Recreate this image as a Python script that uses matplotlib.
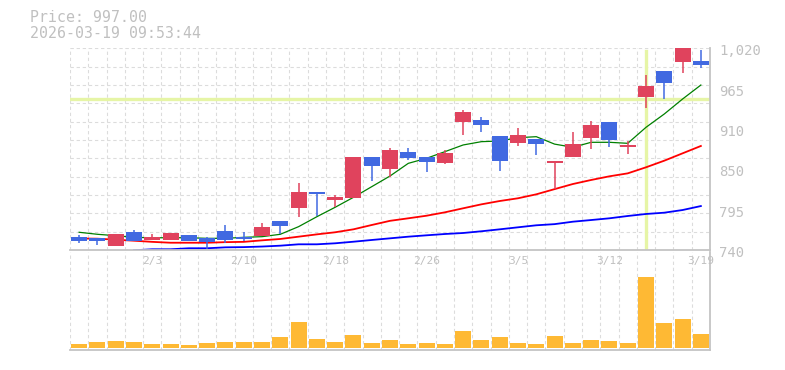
# candlestick chart with moving averages and volume panel
import numpy as np
import matplotlib
matplotlib.use('Agg')
import matplotlib.pyplot as plt
from matplotlib.transforms import offset_copy

dates = ['1/28', '1/29', '1/30', '2/2', '2/3', '2/4', '2/5', '2/6', '2/9', '2/10',
         '2/12', '2/13', '2/16', '2/17', '2/18', '2/19', '2/20', '2/24', '2/25', '2/26',
         '2/27', '3/2', '3/3', '3/4', '3/5', '3/6', '3/9', '3/10', '3/11', '3/12',
         '3/13', '3/16', '3/17', '3/18', '3/19']
opens = [758, 756, 745.6, 765, 754, 754.3, 761, 756, 766.4, 758.5,
         760, 780.3, 798.7, 820.5, 809.8, 812.6, 869, 853, 876, 869,
         860.8, 917.7, 920.5, 898, 889, 894, 861.2, 869.5, 896, 917.7,
         883.4, 952.8, 988.5, 1001.4, 1003]
highs = [761, 756.5, 762.5, 768, 762, 764, 761, 757.6, 774.7, 765.4,
         777, 780.5, 833, 820.5, 816, 869.5, 869, 882, 882, 869,
         878.8, 934.3, 924.6, 898, 909.3, 894, 863.5, 904, 919, 918,
         891.7, 983.3, 988.5, 1021, 1017.6]
lows = [750, 747, 745, 752, 753.5, 754, 752, 742, 749.7, 752.9,
        759, 762, 785.4, 787.6, 799.7, 812, 836, 841, 865, 848.7,
        860, 900, 903.8, 849.7, 884.8, 872, 825, 869, 880.6, 883,
        873.7, 937.5, 950, 986, 993]
closes = [753, 753, 762, 753, 757.6, 763.6, 752.5, 751.5, 754, 755.7,
          772.4, 773.7, 820.5, 817.7, 813.6, 869.1, 857, 878.8, 868, 862.6,
          874.6, 931.6, 914, 864, 900, 887, 863.5, 887, 913.5, 893,
          885.8, 967.6, 972, 1020.4, 997]
ma5 = [764.6, 761.8, 759.9, 757.6, 757, 757, 757, 756.2, 756.2, 757.6,
       758.5, 761.8, 772.4, 786.2, 799.3, 813.1, 827.9, 842.7, 860.3, 867.3,
       876.5, 885.8, 890.4, 891.3, 895.9, 897.3, 887, 882.6, 889.5, 889.5,
       888.1, 910.3, 928.8, 949.6, 969]
ma25 = [756, 755.7, 754.3, 752.9, 751.3, 750.1, 750.1, 750.1, 750.9, 751.3,
        753.4, 755.3, 758.5, 761.7, 764.6, 768.7, 774.7, 780.5, 784, 787.6,
        792.3, 797.9, 803.4, 808, 811.8, 817.3, 824.5, 831.6, 837.2, 842.3,
        846.4, 854.8, 864, 874.2, 884.4]
ma75 = [np.nan, np.nan, np.nan, 739.6, 741, 741, 742.4, 742.4, 743.7, 744,
        744.8, 746, 747.9, 747.9, 749.3, 751.5, 753.9, 756.2, 758.5, 760.4,
        762.2, 763.6, 766, 768.7, 771.5, 774.3, 775.9, 779.3, 781.6, 784,
        787.2, 790, 791.8, 795.5, 801]
volume = [13, 19, 22, 19, 13, 13, 10, 16, 19, 19,
          19, 34, 79, 28, 19, 40, 16, 25, 13, 16,
          13, 52, 25, 34, 16, 13, 37, 16, 25, 22,
          16, 214, 76, 88, 43]

label_dates = ['2/3', '2/10', '2/18', '2/26', '3/5', '3/12', '3/19']
price_ticks = [740, 796, 852, 908, 964, 1020]
price_labels = ['740', '795', '850', '910', '965', '1,020']
ref_price = 950
ref_date = '3/16'
price_text = 'Price: 997.00'
time_text = '2026-03-19 09:53:44'

UP = '#e0435d'
DOWN = '#4169e1'
TXT = '#c0c0c0'
GRID = '#dcdcdc'
SPINE = '#c4c4c4'
HIL = '#e6f5a6'
MONO = 'DejaVu Sans Mono'

W, H = 785, 370
fig = plt.figure(figsize=(W / 100, H / 100), dpi=100)
ax = fig.add_axes([70 / W, 1 - 250 / H, 640 / W, (250 - 48.3) / H])
ax2 = fig.add_axes([70 / W, 1 - 350 / H, 640 / W, (350 - 252) / H])
ax2.patch.set_alpha(0)

x = np.arange(len(dates))
n = len(dates)
ylo, yhi = price_ticks[0], price_ticks[-1]

# shared look for both panels
for a in (ax, ax2):
    a.set_xlim(-0.5, n - 0.5)
    a.set_xticks(np.arange(-0.5, n, 1))
    a.tick_params(length=0, labelbottom=False, labelleft=False)
    a.grid(True, axis='x', color=GRID, lw=0.8, ls=(0, (3, 2.5)))
    a.set_axisbelow(True)
    for s in ('top', 'left'):
        a.spines[s].set_visible(False)
    for s in ('bottom', 'right'):
        a.spines[s].set_color(SPINE)
        a.spines[s].set_linewidth(1.3)

# price panel
ax.set_ylim(ylo, yhi)
ax.set_yticks(np.linspace(ylo, yhi, 12))
ax.grid(True, axis='y', color=GRID, lw=0.8, ls=(0, (3, 2.5)))

ax.axhline(ref_price, color=HIL, lw=2.4, zorder=1)
ax.axvline(dates.index(ref_date), ymin=0.01, ymax=0.985, color=HIL, lw=2.4, zorder=1)

ax.plot(x, ma5, color='#008000', lw=0.9, zorder=2)
ax.plot(x, ma25, color='#ff0000', lw=1.3, zorder=2)
ax.plot(x, ma75, color='#0000ff', lw=1.3, zorder=2)

o = np.array(opens)
c = np.array(closes)
cols = [UP if cc >= oo else DOWN for oo, cc in zip(o, c)]
ax.vlines(x, lows, highs, colors=cols, lw=1.1, zorder=3)
ax.bar(x, np.abs(c - o), bottom=np.minimum(o, c), width=0.87, color=cols, zorder=3)

ytr = offset_copy(ax.get_yaxis_transform(), fig=fig, x=9, y=-3, units='dots')
for v, lab in zip(price_ticks, price_labels):
    ax.text(1, v, lab, transform=ytr, ha='left', va='center',
            fontsize=10, family=MONO, color=TXT)

# volume panel
ax2.set_ylim(-5, 289)
ax2.set_yticks([])
ax2.bar(x, volume, width=0.87, color='#feb934', zorder=3)

for d in label_dates:
    ax2.text(dates.index(d), 0.905, d, transform=ax2.get_xaxis_transform(),
             ha='center', va='center', fontsize=8, family=MONO, color=TXT, zorder=5)

fig.text(30 / W, 1 - 18 / H, price_text, ha='left', va='center',
         fontsize=10.7, family=MONO, color=TXT)
fig.text(30 / W, 1 - 33 / H, time_text, ha='left', va='center',
         fontsize=10.7, family=MONO, color=TXT)

fig.savefig('out.png', dpi=100)
